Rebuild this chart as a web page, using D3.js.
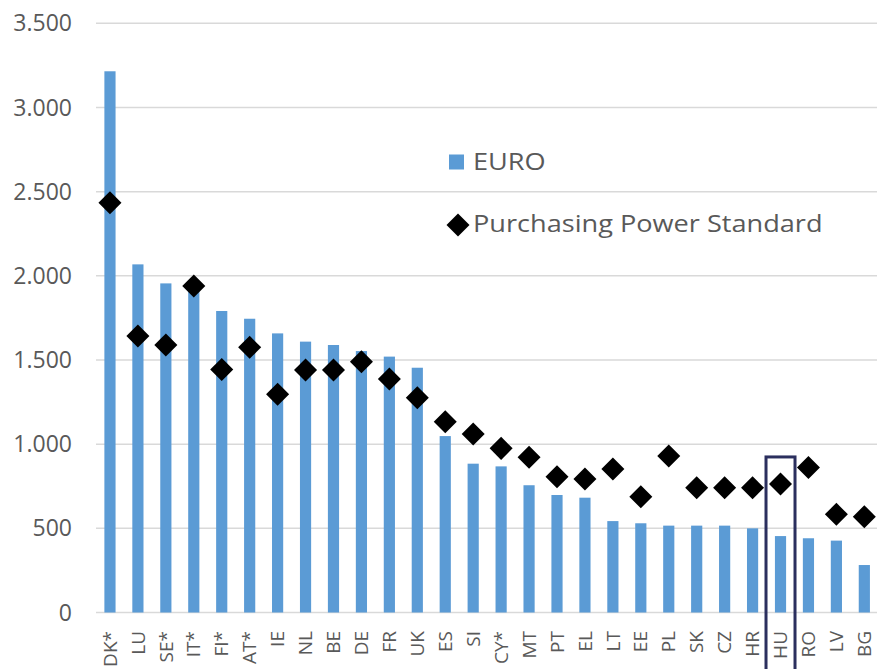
<!DOCTYPE html>
<html><head><meta charset="utf-8">
<script src="https://cdn.jsdelivr.net/npm/d3@7"></script>
<style>html,body{margin:0;padding:0;background:#fff;}svg{display:block;}</style>
</head><body>
<script>
const categories = ["DK*","LU","SE*","IT*","FI*","AT*","IE","NL","BE","DE","FR","UK","ES","SI","CY*","MT","PT","EL","LT","EE","PL","SK","CZ","HR","HU","RO","LV","BG"];
const euroValues = [3215,2068,1955,1935,1791,1745,1658,1609,1589,1553,1520,1454,1048,884,868,756,698,682,543,530,516,516,516,500,454,441,427,282];
const ppsValues  = [2434,1642,1589,1940,1444,1575,1296,1440,1440,1490,1387,1276,1133,1060,975,922,807,793,852,688,930,741,741,741,763,862,583,569];
const yTicks = [0,500,1000,1500,2000,2500,3000,3500];
const yTickLabels = ["0","500","1.000","1.500","2.000","2.500","3.000","3.500"];
const seriesNames = ["EURO","Purchasing Power Standard"];
const highlight = "HU";
const highlightTop = 924;

const W = 877, H = 669;
const svg = d3.select("body").append("svg").attr("width", W).attr("height", H);
const font = "'Open Sans', sans-serif";
const textColor = "#595959";

const x = d3.scaleBand().domain(categories).range([96, 878.3]).paddingInner(0.6).paddingOuter(0.3);
const y = d3.scaleLinear().domain([0, 3500]).range([612.5, 23.3]);

// gridlines
svg.append("g").selectAll("line").data(yTicks).join("line")
  .attr("x1", 96).attr("x2", W).attr("y1", d => y(d)).attr("y2", d => y(d))
  .attr("stroke", "#d9d9d9").attr("stroke-width", 1.5);

// y labels
svg.append("g").selectAll("text").data(yTicks).join("text")
  .attr("x", 72).attr("y", d => y(d)).attr("dy", "0.35em")
  .attr("text-anchor", "end").attr("font-family", font).attr("font-size", 23)
  .attr("fill", textColor).text((d, i) => yTickLabels[i]);

// bars
svg.append("g").selectAll("rect").data(categories).join("rect")
  .attr("x", d => x(d)).attr("width", x.bandwidth())
  .attr("y", (d, i) => y(euroValues[i])).attr("height", (d, i) => y(0) - y(euroValues[i]))
  .attr("fill", "#5b9bd5");

// diamonds
const diamond = d3.symbol().type(d3.symbolSquare).size(265);
svg.append("g").selectAll("path").data(categories).join("path")
  .attr("d", diamond)
  .attr("transform", (d, i) => `translate(${x(d) + x.bandwidth() / 2},${y(ppsValues[i])}) rotate(45)`)
  .attr("fill", "#000");

// x labels
svg.append("g").selectAll("text").data(categories).join("text")
  .attr("transform", d => `translate(${x(d) + x.bandwidth() / 2},631) rotate(-90)`)
  .attr("dy", "0.35em").attr("text-anchor", "end")
  .attr("font-family", font).attr("font-size", 19).attr("fill", textColor)
  .text(d => d);

// highlight box
const hx = x(highlight) + x.bandwidth() / 2;
svg.append("rect")
  .attr("x", hx - 14.5).attr("y", y(highlightTop)).attr("width", 29).attr("height", H + 10 - y(highlightTop))
  .attr("fill", "none").attr("stroke", "#2b2f5e").attr("stroke-width", 3);

// legend
const lg = svg.append("g");
lg.append("rect").attr("x", 449).attr("y", 154.5).attr("width", 15).attr("height", 15).attr("fill", "#5b9bd5");
lg.append("text").attr("transform", "translate(473,170) scale(1.18,1)").attr("font-family", font).attr("font-size", 23)
  .attr("fill", textColor).text(seriesNames[0]);
lg.append("path").attr("d", diamond).attr("transform", "translate(458,225) rotate(45)").attr("fill", "#000");
lg.append("text").attr("transform", "translate(473,232) scale(1.18,1)").attr("font-family", font).attr("font-size", 23)
  .attr("fill", textColor).text(seriesNames[1]);
</script>
</body></html>
